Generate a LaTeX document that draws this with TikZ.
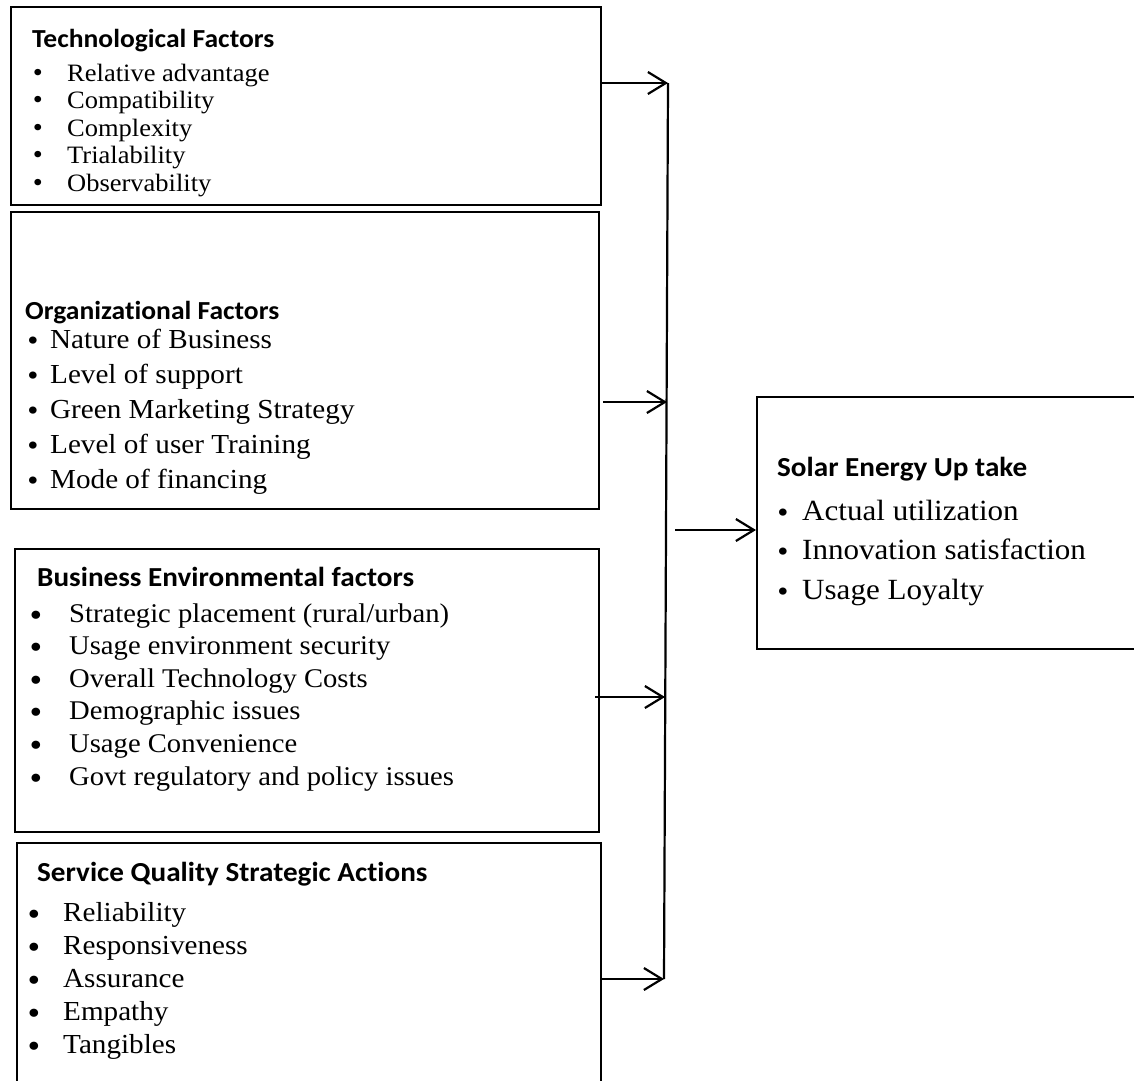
\documentclass[tikz,border=0pt]{standalone}
\usepackage{fontspec}
\setmainfont{Liberation Serif}[FakeStretch=1.06]
\newfontfamily\titlefont{Carlito}[FakeStretch=1.06, Ligatures=NoCommon]
\usetikzlibrary{arrows.meta}
\begin{document}
\begin{tikzpicture}[x=1pt,y=-1pt,
  box/.style={draw, line width=2.2pt, rectangle, inner sep=0pt, anchor=north west},
  ttl/.style={font=\titlefont\bfseries\fontsize{27.5}{32}\selectfont, anchor=base west, inner sep=0pt},
  ttls/.style={font=\titlefont\bfseries\fontsize{26}{30}\selectfont, anchor=base west, inner sep=0pt},
  itm/.style={font=\fontsize{27.5}{32}\selectfont, anchor=base west, inner sep=0pt},
  itmm/.style={font=\fontsize{27}{32}\selectfont, anchor=base west, inner sep=0pt},
  itms/.style={font=\fontsize{25}{30}\selectfont, anchor=base west, inner sep=0pt},
  itml/.style={font=\fontsize{29.3}{34}\selectfont, anchor=base west, inner sep=0pt},
  bul/.style={font=\fontsize{34}{34}\selectfont, anchor=base, inner sep=0pt, yshift=-4pt, text height=14pt, text depth=0pt},
  bult/.style={font=\fontsize{27}{27}\selectfont, anchor=base, inner sep=0pt, text height=12pt, text depth=0pt},
  buls/.style={font=\fontsize{30}{30}\selectfont, anchor=base, inner sep=0pt, yshift=-2pt, text height=14pt, text depth=0pt},
  ln/.style={line width=2.2pt},
  arr/.style={line width=2.2pt, -{Straight Barb[length=18pt,width=22pt]}}]
\useasboundingbox (0,0) rectangle (1134,1080);
\fill[white] (0,0) rectangle (1134,1080);

% boxes
\node[box, minimum width=590pt, minimum height=198pt] (tech) at (10,6) {};
\node[box, minimum width=588pt, minimum height=297pt] (org) at (10,211) {};
\node[box, minimum width=584pt, minimum height=283pt] (env) at (14,548) {};
\node[box, minimum width=584pt, minimum height=260pt] (svc) at (16,842) {};
\node[box, minimum width=400pt, minimum height=252pt] (solar) at (756,396) {};

% Technological
\node[ttls] (t1) at (32,47) {Technological Factors};
\foreach \t [count=\i, evaluate=\i as \yy using 81+27.5*(\i-1)] in {Relative advantage,Compatibility,Complexity,Trialability,Observability}{
  \node[bult] (b1\i) at (38,\yy) {•};
  \node[itms] (i1\i) at (67,\yy) {\t};
}

% Organizational
\node[ttls] (t2) at (25,319) {Organizational Factors};
\foreach \t [count=\i, evaluate=\i as \yy using 348+35.2*(\i-1)] in {Nature of Business,Level of support,Green Marketing Strategy,Level of user Training,Mode of financing}{
  \node[buls] (b2\i) at (33,\yy) {•};
  \node[itm] (i2\i) at (50,\yy) {\t};
}

% Business Environmental
\node[ttl] (t3) at (37,586) {Business Environmental factors};
\foreach \t [count=\i, evaluate=\i as \yy using 622+32.6*(\i-1)] in {Strategic placement (rural/urban),Usage environment security,Overall Technology Costs,Demographic issues,Usage Convenience,Govt regulatory and policy issues}{
  \node[bul] (b3\i) at (36,\yy) {•};
  \node[itmm] (i3\i) at (69,\yy) {\t};
}

% Service Quality
\node[ttl] (t4) at (37,881) {Service Quality Strategic Actions};
\foreach \t [count=\i, evaluate=\i as \yy using 921+33.2*(\i-1)] in {Reliability,Responsiveness,Assurance,Empathy,Tangibles}{
  \node[bul] (b4\i) at (34,\yy) {•};
  \node[itm] (i4\i) at (63,\yy) {\t};
}

% Solar
\node[ttl] (t5) at (777,476) {Solar Energy Up take};
\foreach \t [count=\i, evaluate=\i as \yy using 520+39.5*(\i-1)] in {Actual utilization,Innovation satisfaction,Usage Loyalty}{
  \node[buls] (b5\i) at (783,\yy) {•};
  \node[itml] (i5\i) at (802,\yy) {\t};
}

% connectors
\coordinate (j1) at (668,83);
\coordinate (j2) at (667,402);
\coordinate (j3) at (665,697);
\coordinate (j4) at (664,979);
\coordinate (m) at (675,530);
\draw[ln] (j1) -- (j4);
\draw[arr] (tech.east |- j1) -- (j1);
\draw[arr] ([xshift=3pt]org.east |- j2) -- (j2);
\draw[arr] ([xshift=-5pt]env.east |- j3) -- (j3);
\draw[arr] (svc.east |- j4) -- (j4);
\draw[arr] (m) -- (solar.west |- m);
\end{tikzpicture}
\end{document}
